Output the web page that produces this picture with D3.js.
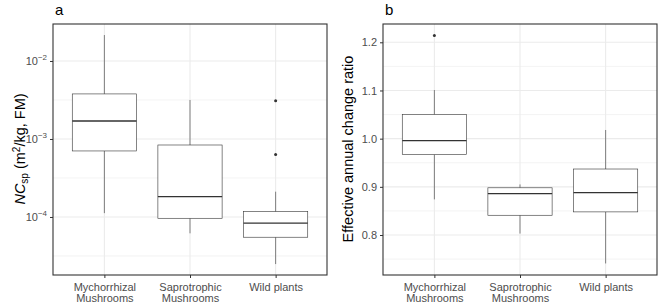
<!DOCTYPE html>
<html>
<head>
<meta charset="utf-8">
<script src="https://cdn.jsdelivr.net/npm/d3@7"></script>
<style>
  body { margin: 0; background: #fff; }
  svg { font-family: "Liberation Sans", Arial, sans-serif; }
</style>
</head>
<body>
<div id="chart"></div>
<script>
  const categories = ['Mychorrhizal\nMushrooms', 'Saprotrophic\nMushrooms', 'Wild plants'];

  // panel a: NCsp, five-number summaries [lower whisker, q1, median, q3, upper whisker]
  const ncStats = [
    [0.000112, 0.000702, 0.00170, 0.00378, 0.0215],
    [0.0000617, 0.0000962, 0.000182, 0.000837, 0.00316],
    [0.0000249, 0.0000550, 0.0000832, 0.000117, 0.000211]
  ];
  const ncOutliers = [[], [], [0.0031, 0.00063]];
  const ncTicks = [-4, -3, -2];

  // panel b: effective annual change ratio
  const ratioStats = [
    [0.874, 0.967, 0.996, 1.050, 1.101],
    [0.803, 0.841, 0.886, 0.898, 0.905],
    [0.741, 0.848, 0.888, 0.937, 1.018]
  ];
  const ratioOutliers = [[1.214], [], []];
  const ratioTicks = [0.8, 0.9, 1.0, 1.1, 1.2];

  const svg = d3.select('#chart').append('svg')
    .attr('width', 660)
    .attr('height', 305);

  function drawPanel(opts) {
    const { left, right, top, bottom, y, stats, outliers, tag } = opts;

    // ggplot style discrete axis: 0.6 units of expansion on both sides
    const x = d3.scalePoint()
      .domain(categories)
      .range([left, right])
      .padding(0.6);
    const bw = x.step() * 0.75;

    const g = svg.append('g');

    // minor grid
    g.selectAll('.minor')
      .data(opts.minor)
      .enter().append('line')
      .attr('x1', left).attr('x2', right)
      .attr('y1', d => y(d)).attr('y2', d => y(d))
      .attr('stroke', '#ebebeb').attr('stroke-width', 0.6);

    // major grid
    g.selectAll('.major')
      .data(opts.major)
      .enter().append('line')
      .attr('x1', left).attr('x2', right)
      .attr('y1', d => y(d)).attr('y2', d => y(d))
      .attr('stroke', '#ebebeb').attr('stroke-width', 1.1);

    g.selectAll('.vgrid')
      .data(categories)
      .enter().append('line')
      .attr('x1', d => x(d)).attr('x2', d => x(d))
      .attr('y1', top).attr('y2', bottom)
      .attr('stroke', '#ebebeb').attr('stroke-width', 1.1);

    const box = g.selectAll('.box')
      .data(categories)
      .enter().append('g');

    box.append('line')
      .attr('x1', d => x(d)).attr('x2', d => x(d))
      .attr('y1', (d, i) => y(stats[i][4])).attr('y2', (d, i) => y(stats[i][3]))
      .attr('stroke', '#333').attr('stroke-width', 0.6);

    box.append('line')
      .attr('x1', d => x(d)).attr('x2', d => x(d))
      .attr('y1', (d, i) => y(stats[i][1])).attr('y2', (d, i) => y(stats[i][0]))
      .attr('stroke', '#333').attr('stroke-width', 0.6);

    box.append('rect')
      .attr('x', d => x(d) - bw / 2)
      .attr('width', bw)
      .attr('y', (d, i) => y(stats[i][3]))
      .attr('height', (d, i) => y(stats[i][1]) - y(stats[i][3]))
      .attr('fill', '#fff')
      .attr('stroke', '#333').attr('stroke-width', 0.6);

    box.append('line')
      .attr('x1', d => x(d) - bw / 2).attr('x2', d => x(d) + bw / 2)
      .attr('y1', (d, i) => y(stats[i][2])).attr('y2', (d, i) => y(stats[i][2]))
      .attr('stroke', '#333').attr('stroke-width', 1.3);

    categories.forEach((c, i) => {
      g.selectAll(null)
        .data(outliers[i])
        .enter().append('circle')
        .attr('cx', x(c))
        .attr('cy', d => y(d))
        .attr('r', 1.5)
        .attr('fill', '#333');
    });

    // border
    g.append('rect')
      .attr('x', left).attr('y', top)
      .attr('width', right - left).attr('height', bottom - top)
      .attr('fill', 'none')
      .attr('stroke', '#333').attr('stroke-width', 1.1);

    // x axis
    const xAxis = g.append('g')
      .attr('transform', `translate(0,${bottom})`)
      .call(d3.axisBottom(x).tickSize(3).tickFormat(''));
    xAxis.select('.domain').remove();
    xAxis.selectAll('.tick line').attr('stroke', '#333');

    xAxis.selectAll('.tick').each(function(d) {
      const t = d3.select(this).append('text')
        .attr('fill', '#4d4d4d')
        .attr('font-size', 11)
        .attr('text-anchor', 'middle')
        .attr('y', 16);
      d.split('\n').forEach((line, k) => {
        t.append('tspan').attr('x', 0).attr('dy', k === 0 ? 0 : 10.5).text(line);
      });
    });

    // y axis
    const yAxis = g.append('g')
      .attr('transform', `translate(${left},0)`)
      .call(d3.axisLeft(y).tickValues(opts.tickValues).tickSize(3).tickPadding(3).tickFormat(opts.tickFormat || null));
    yAxis.select('.domain').remove();
    yAxis.selectAll('.tick line').attr('stroke', '#333');
    yAxis.selectAll('.tick text')
      .attr('fill', '#4d4d4d')
      .attr('font-size', 11)
      .attr('font-family', '"Liberation Sans", Arial, sans-serif');
    if (opts.decorateTicks) opts.decorateTicks(yAxis);

    svg.append('text')
      .attr('x', left + 2).attr('y', 15)
      .attr('font-size', 15)
      .attr('fill', '#000')
      .text(tag);
  }

  // panel a
  const yA = d3.scaleLog()
    .domain([Math.pow(10, -4.744), Math.pow(10, -1.526)])
    .range([275, 24]);

  drawPanel({
    left: 53, right: 327, top: 24, bottom: 275,
    y: yA,
    stats: ncStats, outliers: ncOutliers, tag: 'a',
    tickValues: ncTicks.map(e => Math.pow(10, e)),
    tickFormat: () => '',
    major: ncTicks.map(e => Math.pow(10, e)),
    minor: [-4.5, -3.5, -2.5].map(e => Math.pow(10, e)),
    decorateTicks: axis => {
      axis.selectAll('.tick').each(function(d) {
        const e = Math.round(Math.log10(d));
        const t = d3.select(this).append('text')
          .attr('fill', '#4d4d4d')
          .attr('font-size', 11)
          .attr('text-anchor', 'end')
          .attr('x', -6)
          .attr('y', 4);
        t.append('tspan').text('10');
        t.append('tspan').attr('font-size', 8).attr('dy', -5).text('\u2212' + Math.abs(e));
      });
    }
  });

  // panel b
  const yB = d3.scaleLinear()
    .domain([0.717, 1.238])
    .range([275, 24]);

  drawPanel({
    left: 383, right: 657, top: 24, bottom: 275,
    y: yB,
    stats: ratioStats, outliers: ratioOutliers, tag: 'b',
    tickValues: ratioTicks,
    tickFormat: d3.format('.1f'),
    major: ratioTicks,
    minor: [0.75, 0.85, 0.95, 1.05, 1.15]
  });

  // y axis titles
  const titleA = svg.append('text')
    .attr('transform', 'translate(25,149) rotate(-90)')
    .attr('text-anchor', 'middle')
    .attr('font-size', 14.5)
    .attr('fill', '#000');
  titleA.append('tspan').attr('font-style', 'italic').text('NC');
  titleA.append('tspan').attr('font-size', 10).attr('dy', 3).text('sp');
  titleA.append('tspan').attr('dy', -3).text(' (m');
  titleA.append('tspan').attr('font-size', 10).attr('dy', -5).text('2');
  titleA.append('tspan').attr('dy', 5).text('/kg, FM)');

  svg.append('text')
    .attr('transform', 'translate(353,149) rotate(-90)')
    .attr('text-anchor', 'middle')
    .attr('font-size', 14.5)
    .attr('fill', '#000')
    .text('Effective annual change ratio');
</script>
</body>
</html>
